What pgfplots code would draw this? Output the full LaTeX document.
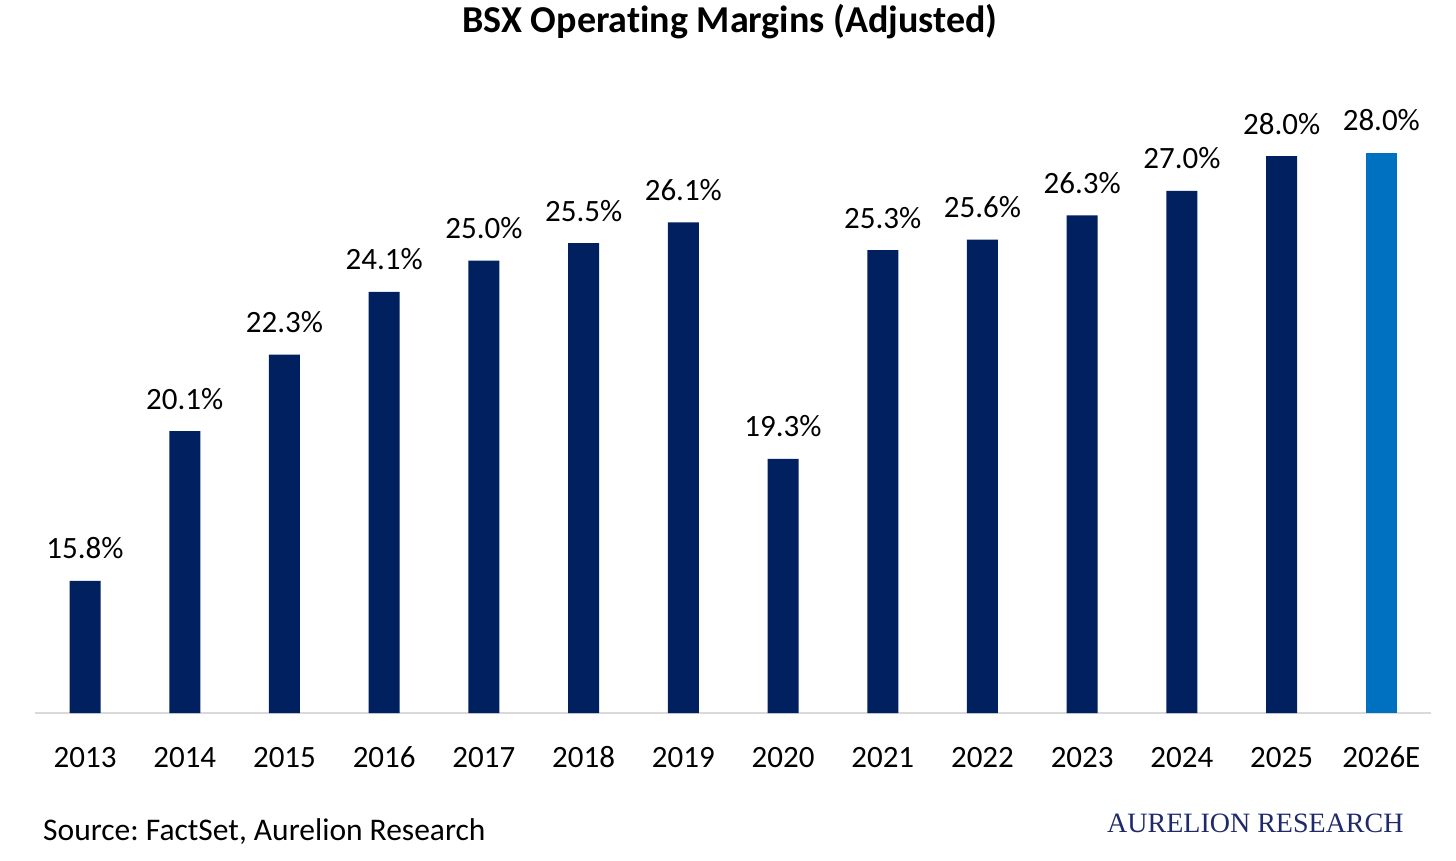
\documentclass[border=0pt]{standalone}
\usepackage{pgfplots}
\pgfplotsset{compat=1.18}
\usepackage{pgfplotstable}
\usepackage{fontspec}
\setmainfont[Ligatures=NoCommon]{Carlito}
\newfontfamily\seriffont{Liberation Serif}
\definecolor{navy}{HTML}{002060}
\definecolor{lblue}{HTML}{0070C0}
\definecolor{axisgray}{HTML}{D9D9D9}
\definecolor{brandnavy}{HTML}{1F2A6B}
\frenchspacing

\pgfplotstableread{
x y lab
0 15.8 15.8\%
1 20.1 20.1\%
2 22.3 22.3\%
3 24.1 24.1\%
4 25.0 25.0\%
5 25.5 25.5\%
6 26.1 26.1\%
7 19.3 19.3\%
8 25.3 25.3\%
9 25.6 25.6\%
10 26.3 26.3\%
11 27.0 27.0\%
12 28.0 28.0\%
}\actual
\pgfplotstableread{
x y lab
13 28.1 28.0\%
}\estimate

\begin{document}
\begin{tikzpicture}[x=1pt,y=1pt]
\useasboundingbox (0,0) rectangle (1456,860);
\begin{axis}[
  at={(35.2pt,147pt)}, anchor=south west,
  scale only axis,
  width=1396pt, height=626.4pt,
  xmin=-0.5, xmax=13.5, ymin=12, ymax=30,
  axis y line=none,
  axis x line*=bottom,
  x axis line style={draw=axisgray, line width=1.5pt, -},
  xtick={0,...,13},
  xticklabels={2013,2014,2015,2016,2017,2018,2019,2020,2021,2022,2023,2024,2025,2026E},
  xtick style={draw=none},
  xticklabel style={font=\fontsize{31}{36}\selectfont, anchor=base, inner sep=0pt, yshift=-50pt},
  ybar, bar width=31pt, bar shift=0pt,
  clip=false,
  nodes near coords,
  point meta=explicit symbolic,
  nodes near coords style={font=\fontsize{31}{36}\selectfont, anchor=base, inner sep=0pt, yshift=22pt, black},
]
\addplot[fill=navy, draw=none] table[x=x, y=y, meta=lab] {\actual};
\addplot[fill=lblue, draw=none] table[x=x, y=y, meta=lab] {\estimate};
\end{axis}
\node[anchor=base, inner sep=0pt, font=\fontsize{38}{42}\selectfont\bfseries] at (730,827) {BSX Operating Margins (Adjusted)};
\node[anchor=base west, inner sep=0pt, font=\fontsize{31.5}{36}\selectfont] at (43,20) {Source: FactSet, Aurelion Research};
\node[anchor=base west, inner sep=0pt, font=\seriffont\fontsize{28}{30}\selectfont, text=brandnavy] at (1107,28) {AURELION RESEARCH};
\end{tikzpicture}
\end{document}
